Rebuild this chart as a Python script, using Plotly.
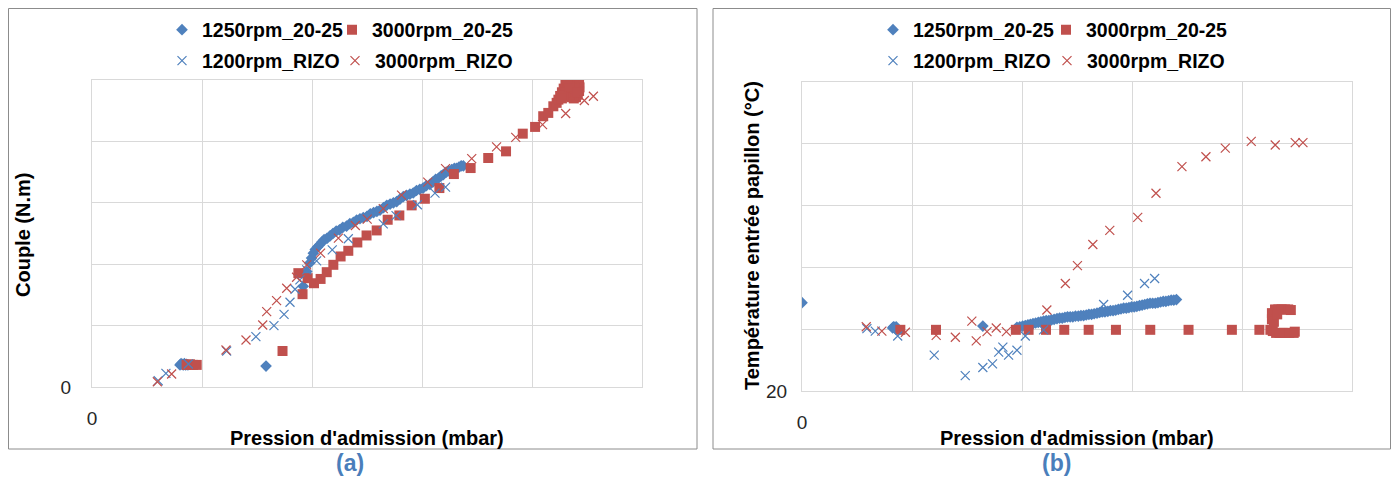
import plotly.graph_objects as go

# ---------------- Panel (a): Couple vs Pression ----------------
a_1250_x = [400, 405, 410, 415, 420, 425, 430, 436, 791, 960, 976, 990, 998, 1006, 1015, 1025, 1036, 1045,
            1055, 1068, 1082, 1095, 1110, 1125, 1140, 1157, 1172, 1188, 1203, 1218, 1233, 1250, 1265, 1280,
            1295, 1309, 1325, 1340, 1355, 1370, 1385, 1400, 1415, 1430, 1445, 1460, 1475, 1490, 1505, 1520,
            1536, 1550, 1562, 1575, 1587, 1597, 1610, 1622, 1635, 1647, 1657, 1668, 1678, 1688]
a_1250_y = [18, 19, 18.5, 18, 19, 18, 18.5, 18, 17, 82, 94, 101, 105, 109, 112, 114, 116, 118,
            120, 121, 123, 125, 127, 128, 130, 131, 133, 134, 136, 137, 138, 139, 141, 142,
            143, 144, 146, 148, 149, 150, 151, 153, 155, 156, 157, 158, 160, 161, 162, 164,
            165, 167, 169, 170, 172, 173, 175, 176, 177, 178, 178, 179, 180, 180]

a_3000_x = [430, 445, 460, 476, 866, 957, 938, 980, 1009, 1039, 1067, 1097, 1130, 1165, 1206, 1248, 1294,
            1344, 1397, 1453, 1513, 1579, 1645, 1721, 1801, 1882, 1958, 2014, 2051, 2074, 2097, 2112,
            2120, 2128, 2136, 2144, 2152, 2160, 2168, 2176, 2184, 2192, 2200, 2208, 2214, 2216, 2214,
            2208, 2200, 2190, 2180, 2170, 2160, 2152, 2144, 2136, 2180, 2195, 2170, 2160, 2205]
a_3000_y = [18, 18.5, 18, 18, 29.3, 75.6, 92.7, 88.6, 84.5, 88, 93.5, 99.5, 106.3, 110.9, 117.7, 123.4, 127.5,
            136.2, 139.7, 147.9, 153.3, 162, 173.4, 178.3, 186.5, 191.9, 206.3, 211.8, 220.5, 223.2, 228.6, 231.4,
            234, 237, 240, 243, 246, 248, 249, 250, 251, 251, 250, 249, 247, 244, 241,
            238, 236, 235, 236, 238, 241, 240, 237, 235, 244, 243, 245, 251, 240]

a_r1200_x = [301, 336, 438, 612, 745, 827, 873, 900, 923, 945, 976, 1021, 1092, 1165, 1324, 1382, 1479,
             1559, 1607]
a_r1200_y = [5.1, 11.1, 18.7, 29.3, 41, 50, 59.2, 69, 79.6, 87.2, 95.4, 102.7, 111.7, 120.7, 132.9, 139.5,
             148.4, 157.9, 162.8]

a_r3000_x = [297, 362, 609, 700, 776, 794, 839, 885, 930, 976, 1039, 1120, 1197, 1251, 1324, 1407, 1526,
             1607, 1726, 1839, 1926, 2048, 2153, 2238, 2279]
a_r3000_y = [4.3, 10.6, 30.1, 38.3, 50.5, 61.4, 70.4, 80.4, 89.4, 99.5, 109, 121.2, 131.5, 136.7, 145.2,
             156.3, 166.9, 177.8, 186, 195.5, 203.3, 213.7, 222.7, 233.3, 236.8]

# ---------------- Panel (b): Température vs Pression ----------------
b_1250_x = [0, 412, 416, 420, 424, 428, 822, 977, 990, 1003, 1015, 1027, 1038, 1050, 1062, 1074, 1086, 1098,
            1110, 1122, 1134, 1146, 1159, 1171, 1183, 1195, 1207, 1219, 1231, 1243, 1256, 1268, 1280, 1292,
            1304, 1316, 1328, 1341, 1353, 1365, 1377, 1390, 1402, 1414, 1426, 1438, 1450, 1462, 1474, 1486,
            1498, 1510, 1522, 1534, 1546, 1558, 1570, 1582, 1594, 1606, 1618, 1630, 1642, 1654, 1666, 1678,
            1690, 1702]
b_1250_y = [34.3, 30.2, 30.4, 30.3, 30.1, 30.4, 30.5, 30.3, 30.4, 30.5, 30.6, 30.7, 30.8, 30.9, 31.0, 31.1,
            31.2, 31.3, 31.4, 31.4, 31.5, 31.6, 31.7, 31.8, 31.8, 31.9, 32.0, 32.0, 32.0, 32.1, 32.1, 32.2,
            32.2, 32.3, 32.4, 32.4, 32.5, 32.6, 32.7, 32.8, 32.8, 32.9, 33.0, 33.0, 33.1, 33.2, 33.3, 33.4,
            33.4, 33.5, 33.6, 33.6, 33.7, 33.8, 33.9, 34.0, 34.1, 34.2, 34.2, 34.2, 34.3, 34.4, 34.5, 34.5,
            34.6, 34.7, 34.7, 34.8]

b_3000_x = [447, 609, 972, 1030, 1109, 1192, 1303, 1427, 1583, 1757, 1954, 2079, 2129,
            2136, 2150, 2165, 2180, 2195, 2210, 2222, 2136, 2145, 2160,
            2140, 2155, 2170, 2185, 2200, 2215, 2235, 2240]
b_3000_y = [29.9, 29.9, 29.9, 29.9, 29.9, 29.9, 29.9, 29.9, 29.9, 29.9, 29.9, 29.9, 29.9,
            32.6, 33.2, 33.2, 33.2, 33.2, 33.2, 33.1, 31.6, 31.2, 32.4,
            29.7, 29.4, 29.4, 29.4, 29.4, 29.4, 29.4, 29.6]

b_r1200_x = [295, 333, 435, 601, 742, 822, 866, 894, 913, 939, 977, 1015, 1098, 1371, 1480, 1557, 1603]
b_r1200_y = [30.1, 29.7, 28.9, 25.8, 22.5, 23.8, 24.4, 26.3, 27.1, 25.8, 26.6, 28.9, 29.9, 34.0, 35.5,
             37.4, 38.2]

b_r3000_x = [292, 363, 470, 610, 697, 772, 792, 841, 883, 929, 1113, 1197, 1252, 1322, 1399, 1526, 1609,
             1727, 1836, 1924, 2042, 2151, 2242, 2277]
b_r3000_y = [30.4, 29.7, 29.5, 29.0, 28.7, 31.3, 28.1, 29.6, 30.2, 29.6, 33.1, 37.4, 40.3, 43.7, 46.0,
             48.1, 52.0, 56.3, 57.9, 59.3, 60.4, 59.8, 60.2, 60.2]

names = ["1250rpm_20-25", "3000rpm_20-25", "1200rpm_RIZO", "3000rpm_RIZO"]
a_xticks = [0, 500, 1000, 1500, 2000, 2500]
a_yticks = [0, 50, 100, 150, 200, 250]
b_yticks = [20, 30, 40, 50, 60, 70]

BLUE = "#4F81BD"
RED = "#C0504D"
FONT = "Liberation Sans, Arial, sans-serif"

# page body has an 8px margin; the figure is sized to fit inside the 1399x486 window
OFF = 8
W, H = 1399 - 2 * OFF, 486 - 2 * OFF


def px(v):
    return (v - OFF) / W


def py(v):
    return 1 - (v - OFF) / H


fig = go.Figure()

# legend ids per panel: (top-left, top-right, bottom-left, bottom-right)
legend_ids_a = ["legend", "legend2", "legend3", "legend4"]
legend_ids_b = ["legend5", "legend6", "legend7", "legend8"]


def add_panel(xa, ya, data, lids):
    styles = [
        dict(symbol="diamond", size=9, color=BLUE),
        dict(symbol="square", size=10, color=RED),
        dict(symbol="x-thin", size=9, line=dict(color=BLUE, width=1.2)),
        dict(symbol="x-thin", size=9, line=dict(color=RED, width=1.2)),
    ]
    for (xs, ys), nm, st, lid in zip(data, names, styles, lids):
        fig.add_trace(go.Scatter(x=xs, y=ys, mode="markers", name=nm, xaxis=xa, yaxis=ya,
                                 legend=lid, marker=st))


add_panel("x", "y", [(a_1250_x, a_1250_y), (a_3000_x, a_3000_y), (a_r1200_x, a_r1200_y),
                     (a_r3000_x, a_r3000_y)], legend_ids_a)
add_panel("x2", "y2", [(b_1250_x, b_1250_y), (b_3000_x, b_3000_y), (b_r1200_x, b_r1200_y),
                       (b_r3000_x, b_r3000_y)], legend_ids_b)

GRID = "#D9D9D9"
tickfont = dict(family=FONT, size=19, color="#262626")


def xaxis_cfg(dom, anchor):
    return dict(domain=dom, anchor=anchor, range=[0, 2500], tickmode="array", tickvals=a_xticks,
                ticktext=["0"] + [""] * (len(a_xticks) - 1), showgrid=True, gridcolor=GRID, gridwidth=1,
                showline=True, linecolor=GRID, linewidth=1, mirror=True, zeroline=False,
                ticks="outside", ticklen=14, tickcolor="rgba(0,0,0,0)", tickfont=tickfont,
                automargin=False)


def yaxis_cfg(dom, anchor, rng, vals, first, tl):
    return dict(domain=dom, anchor=anchor, range=rng, tickmode="array", tickvals=vals,
                ticktext=[first] + [""] * (len(vals) - 1), showgrid=True, gridcolor=GRID, gridwidth=1,
                showline=True, linecolor=GRID, linewidth=1, mirror=True, zeroline=False,
                ticks="outside", ticklen=tl, tickcolor="rgba(0,0,0,0)", tickfont=tickfont,
                automargin=False)


legfont = dict(family=FONT, size=19.5, color="#000000", weight="bold")


def leg(x, y):
    return dict(x=x, y=y, xanchor="left", yanchor="middle", orientation="h", font=legfont,
                bgcolor="rgba(0,0,0,0)", itemwidth=30)


# symbol sits ~24px right of the legend's left edge
leg_pos = {
    "legend": (162, 30), "legend2": (332, 30), "legend3": (162, 61), "legend4": (335, 61),
    "legend5": (873, 30), "legend6": (1046, 30), "legend7": (873, 61), "legend8": (1047, 61),
}

fig.update_layout(
    width=W, height=H, margin=dict(l=0, r=0, t=0, b=0, autoexpand=False),
    paper_bgcolor="white", plot_bgcolor="white",
    xaxis=xaxis_cfg([px(92), px(642)], "y"),
    yaxis=yaxis_cfg([py(387), py(80)], "x", [0, 250], a_yticks, "0", 16),
    xaxis2=xaxis_cfg([px(802), px(1352)], "y2"),
    yaxis2=yaxis_cfg([py(391), py(82)], "x2", [20, 70], b_yticks, "20", 10),
    showlegend=True,
)
fig.update_layout({k: leg(px(v[0]), py(v[1])) for k, v in leg_pos.items()})

# panel borders (kept inside the drawable page area)
for x0, x1 in [(8.5, 697), (713, 1390.5)]:
    fig.add_shape(type="rect", xref="paper", yref="paper", x0=px(x0), x1=px(x1), y0=py(449), y1=py(8.5),
                  line=dict(color="#8C8C8C", width=1), fillcolor="rgba(0,0,0,0)", layer="below")

titlefont = dict(family=FONT, size=20, color="#000000")
capfont = dict(family=FONT, size=23, color="#4A7EBB")
ann = [
    dict(text="<b>Couple (N.m)</b>", x=px(23), y=py(235), textangle=-90, font=titlefont),
    dict(text="<b>Pression d'admission (mbar)</b>", x=px(367), y=py(438), font=titlefont),
    dict(text="<b>Température entrée papillon (°C)</b>", x=px(752), y=py(236), textangle=-90, font=titlefont),
    dict(text="<b>Pression d'admission (mbar)</b>", x=px(1077), y=py(438), font=titlefont),
    dict(text="<b>(a)</b>", x=px(350), y=py(463), font=capfont),
    dict(text="<b>(b)</b>", x=px(1056), y=py(463), font=capfont),
]
for a in ann:
    a.update(xref="paper", yref="paper", showarrow=False, xanchor="center", yanchor="middle")
    fig.add_annotation(**a)

fig.write_html("out.html")
